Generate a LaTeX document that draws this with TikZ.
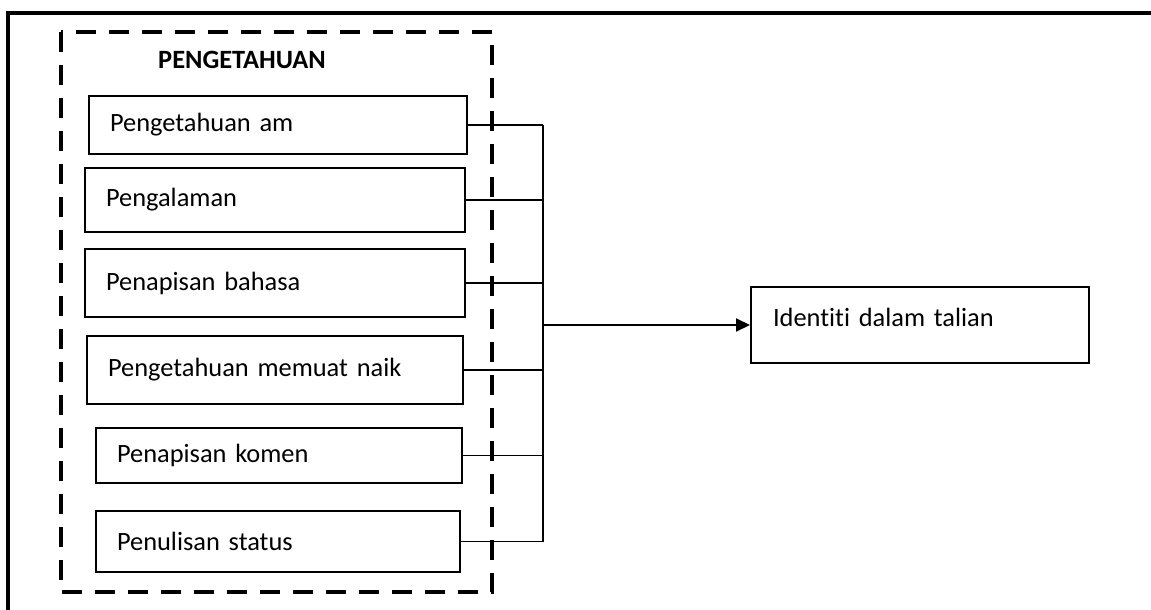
\documentclass[tikz,border=0pt]{standalone}
\usepackage{fontspec}
\setmainfont{Carlito}[Ligatures={NoCommon}]
\usetikzlibrary{arrows.meta}
\tikzstyle{every node}=[font=\fontsize{13.2pt}{16pt}\selectfont]
\tikzstyle{factor}=[draw=black,line width=1pt,anchor=north west,inner xsep=10.5pt,align=left]
\tikzstyle{link}=[line width=0.8pt]

\begin{document}
\begin{tikzpicture}[x=0.5pt,y=-0.5pt]
    \useasboundingbox (0,0) rectangle (1151,610);
    \draw[line width=2pt] (6,13) -- (1151,13);
    \draw[line width=2pt] (8,13) -- (8,610);
    \draw[line width=1.6pt,dash pattern=on 10pt off 6.5pt] (61,32) rectangle (492,592);
    \node[font=\fontsize{13.2pt}{16pt}\selectfont\bfseries] (title) at (242,60) {PENGETAHUAN};
    \node[factor,text width=168pt,minimum height=29pt] (am) at (88,95) {Pengetahuan am};
    \node[factor,text width=169pt,minimum height=32pt] (alaman) at (84,167) {Pengalaman};
    \node[factor,text width=169pt,minimum height=34pt] (bahasa) at (84,248) {Penapisan bahasa};
    \node[factor,text width=167pt,minimum height=34pt] (muatnaik) at (86,335) {Pengetahuan memuat naik};
    \node[factor,text width=162pt,minimum height=27.5pt] (komen) at (95,427) {Penapisan komen};
    \node[factor,text width=161pt,minimum height=30.5pt] (status) at (95,510) {Penulisan status};
    \node[factor,inner xsep=11pt,text width=147pt,minimum height=38pt,text depth=8pt] (identiti) at (750,286) {Identiti dalam talian};
    \coordinate (busx) at (543,0);
    \draw[line width=1pt] (am.east -| busx) -- (status.east -| busx);
    \draw[link] (am.east) -- (am.east -| busx);
    \draw[link] (alaman.east) -- (alaman.east -| busx);
    \draw[link] (bahasa.east) -- (bahasa.east -| busx);
    \draw[link] (muatnaik.east) -- (muatnaik.east -| busx);
    \draw[link] (komen.east) -- (komen.east -| busx);
    \draw[link] (status.east) -- (status.east -| busx);
    \draw[line width=1pt,-{Triangle[length=7pt,width=6.5pt]}] (identiti.west -| busx) -- (identiti.west);
\end{tikzpicture}
\end{document}
